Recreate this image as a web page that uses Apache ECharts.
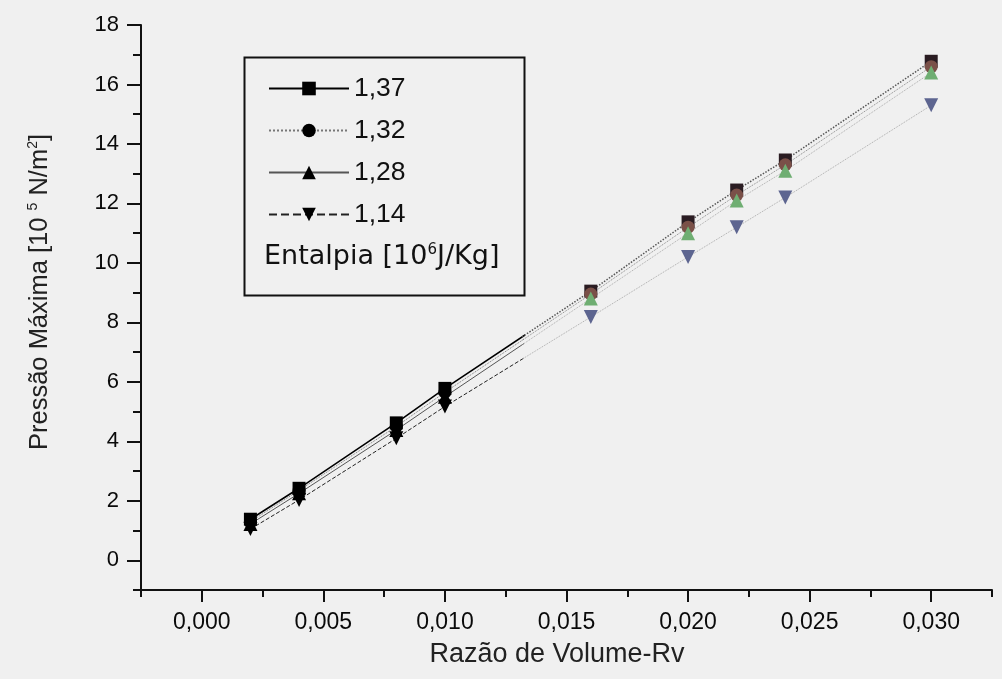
<!DOCTYPE html>
<html>
<head>
<meta charset="utf-8">
<script src="https://cdn.jsdelivr.net/npm/echarts@6/dist/echarts.min.js"></script>
<style>
  html, body { margin: 0; padding: 0; background: #f0f0f0; }
  #chart { width: 1002px; height: 679px; }
</style>
</head>
<body>
<div id="chart"></div>
<script>
// Volume ratio (Rv) where each curve was evaluated
const razaoVolume = [0.002, 0.004, 0.008, 0.010, 0.016, 0.020, 0.022, 0.024, 0.030];

// Maximum pressure [10^5 N/m^2] for each enthalpy level [10^6 J/Kg]
const pressao137 = [1.38, 2.42, 4.62, 5.78, 9.05, 11.38, 12.45, 13.46, 16.78];
const pressao132 = [1.30, 2.35, 4.50, 5.65, 8.95, 11.20, 12.28, 13.30, 16.60];
const pressao128 = [1.22, 2.25, 4.38, 5.50, 8.80, 11.00, 12.10, 13.10, 16.40];
const pressao114 = [1.05, 2.03, 4.10, 5.17, 8.18, 10.20, 11.20, 12.20, 15.30];

const nomesSeries = ['1,37', '1,32', '1,28', '1,14'];

// Axis tick values
const xTicksMaiores = [0, 0.005, 0.010, 0.015, 0.020, 0.025, 0.030];
const yTicksMaiores = [0, 2, 4, 6, 8, 10, 12, 14, 16, 18];

const xMin = -0.0025, xMax = 0.0325, yMin = -1, yMax = 18;
// the curves change style past this Rv value
const xCorte = 0.0132;

const plotLeft = 141, plotRight = 10, plotTop = 25, plotBottom = 89;
const plotWidth = 1002 - plotLeft - plotRight;
const leftWidth = plotWidth * (xCorte - xMin) / (xMax - xMin);

const symbols = ['rect', 'circle', 'triangle', 'triangle'];
const rotations = [0, 0, 0, 180];
const sizes = [13, 13, 14, 14];
const colorsRight = ['#2a1c22', '#7a5048', '#6fae72', '#5d6590'];
const lineLeft = [
  { color: '#000', width: 1.6, type: 'solid' },
  { color: '#777', width: 1, type: 'dotted' },
  { color: '#555', width: 1, type: 'solid' },
  { color: '#222', width: 1, type: 'dashed' }
];
const lineRight = [
  { color: '#555', width: 1.5, type: 'dotted' },
  { color: '#888', width: 1, type: 'dotted' },
  { color: '#aaa', width: 1, type: 'dotted' },
  { color: '#aaa', width: 1, type: 'dotted' }
];
const valores = [pressao137, pressao132, pressao128, pressao114];

function pares(ys) { return razaoVolume.map((x, i) => [x, ys[i]]); }

const series = [];
valores.forEach((ys, k) => {
  series.push({
    name: nomesSeries[k], type: 'line', xAxisIndex: 2, yAxisIndex: 2,
    data: pares(ys), clip: true, symbol: symbols[k], symbolRotate: rotations[k],
    symbolSize: sizes[k], itemStyle: { color: '#000' }, lineStyle: lineLeft[k],
    animation: false, z: 3
  });
});
valores.forEach((ys, k) => {
  series.push({
    name: nomesSeries[k], type: 'line', xAxisIndex: 3, yAxisIndex: 3,
    data: pares(ys), clip: true, symbol: symbols[k], symbolRotate: rotations[k],
    symbolSize: sizes[k], itemStyle: { color: colorsRight[k] }, lineStyle: lineRight[k],
    animation: false, z: 3
  });
});

const fmt = v => v.toFixed(3).replace('.', ',');
const hidden = { show: false };
const fontFam = 'Liberation Sans, Arial, sans-serif';
const wideFont = 'DejaVu Sans, sans-serif';

const option = {
  backgroundColor: '#f0f0f0',
  animation: false,
  grid: [
    { left: plotLeft, right: plotRight, top: plotTop, bottom: plotBottom },
    { left: plotLeft, right: plotRight, top: plotTop, bottom: plotBottom },
    { left: plotLeft, width: leftWidth, top: plotTop, bottom: plotBottom },
    { left: plotLeft + leftWidth, right: plotRight, top: plotTop, bottom: plotBottom }
  ],
  xAxis: [
    { gridIndex: 0, type: 'value', min: xMin, max: xMax, interval: 0.0025,
      axisLine: { show: true, onZero: false, lineStyle: { color: '#111', width: 2 } },
      axisTick: { show: true, length: 12, customValues: xTicksMaiores, lineStyle: { color: '#111', width: 2 } },
      axisLabel: { customValues: xTicksMaiores, formatter: fmt, margin: 21, fontSize: 23, color: '#0a0a0a', fontFamily: fontFam },
      splitLine: hidden },
    { gridIndex: 1, type: 'value', min: xMin, max: xMax, interval: 0.0025,
      axisLine: { show: false, onZero: false },
      axisTick: { show: true, length: 7, lineStyle: { color: '#111', width: 2 } },
      axisLabel: hidden, splitLine: hidden },
    { gridIndex: 2, type: 'value', min: xMin, max: xCorte, show: false, splitLine: hidden },
    { gridIndex: 3, type: 'value', min: xCorte, max: xMax, show: false, splitLine: hidden }
  ],
  yAxis: [
    { gridIndex: 0, type: 'value', min: yMin, max: yMax, interval: 1,
      axisLine: { show: true, onZero: false, lineStyle: { color: '#111', width: 2 } },
      axisTick: { show: true, length: 14, customValues: yTicksMaiores, lineStyle: { color: '#111', width: 2 } },
      axisLabel: { customValues: yTicksMaiores, margin: 22, fontSize: 22, color: '#0a0a0a', fontFamily: fontFam },
      splitLine: hidden },
    { gridIndex: 1, type: 'value', min: yMin, max: yMax, interval: 1,
      axisLine: { show: false, onZero: false },
      axisTick: { show: true, length: 8, lineStyle: { color: '#111', width: 2 } },
      axisLabel: hidden, splitLine: hidden },
    { gridIndex: 2, type: 'value', min: yMin, max: yMax, show: false, splitLine: hidden },
    { gridIndex: 3, type: 'value', min: yMin, max: yMax, show: false, splitLine: hidden }
  ],
  legend: {
    data: nomesSeries,
    orient: 'vertical', left: 263, top: 70,
    itemWidth: 80, itemHeight: 17, itemGap: 15,
    selectedMode: false,
    textStyle: { fontSize: 26.5, color: '#111', fontFamily: fontFam }
  },
  graphic: [
    { type: 'rect', left: 242, top: 55, shape: { width: 280, height: 238 },
      style: { fill: 'none', stroke: '#111', lineWidth: 2 }, z: 10 },
    { type: 'text', left: 264, top: 243,
      style: { text: 'Entalpia [10{s|6}J/Kg]', fontSize: 27, fill: '#111', fontFamily: wideFont,
        rich: { s: { fontSize: 15, verticalAlign: 'top', padding: [0, 0, 13, 0], fill: '#111', fontFamily: wideFont } } } },
    { type: 'text', x: 557, y: 655,
      style: { text: 'Razão de Volume-Rv', fontSize: 27, fill: '#222', fontFamily: fontFam,
        align: 'center', verticalAlign: 'middle' } },
    { type: 'text', x: 40, y: 292, rotation: Math.PI / 2,
      style: { text: 'Pressão Máxima [10 {s|5} N/m{s|2}]', fontSize: 25.5, fill: '#222', fontFamily: fontFam,
        align: 'center', verticalAlign: 'middle',
        rich: { s: { fontSize: 14, padding: [0, 0, 13, 0], fill: '#222', fontFamily: fontFam } } } }
  ],
  series: series
};

const chart = echarts.init(document.getElementById('chart'), null, { renderer: 'canvas' });
chart.setOption(option);
</script>
</body>
</html>
